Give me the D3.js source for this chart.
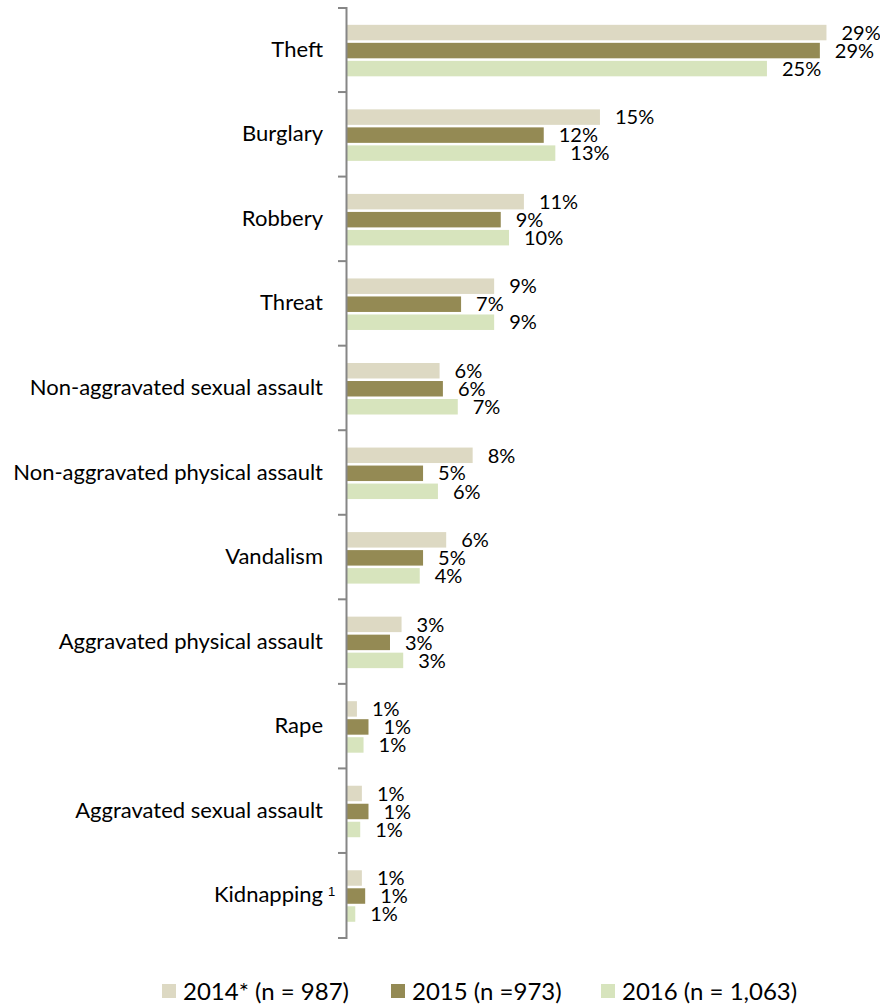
<!DOCTYPE html>
<html>
<head>
<meta charset="utf-8">
<script src="https://cdn.jsdelivr.net/npm/d3@7/dist/d3.min.js"></script>
<style>
  html, body { margin: 0; padding: 0; background: #fff; }
  svg { display: block; font-family: Lato, "Noto Sans", sans-serif; }
</style>
</head>
<body>
<svg id="chart" width="880" height="1006"></svg>
<script>
// Incident types, top to bottom
const categories = [
  "Theft", "Burglary", "Robbery", "Threat",
  "Non-aggravated sexual assault", "Non-aggravated physical assault",
  "Vandalism", "Aggravated physical assault", "Rape",
  "Aggravated sexual assault", "Kidnapping"
];

// Survey years and legend text
const seriesKeys = ["2014", "2015", "2016"];
const seriesLabels = ["2014* (n = 987)", "2015 (n =973)", "2016 (n = 1,063)"];

// Share of victims (%) per incident type
const values2014 = [29.0, 15.3, 10.7, 8.9, 5.6, 7.6, 6.0, 3.3, 0.6, 0.9, 0.9];
const values2015 = [28.6, 11.9, 9.3, 6.9, 5.8, 4.6, 4.6, 2.6, 1.3, 1.3, 1.1];
const values2016 = [25.4, 12.6, 9.8, 8.9, 6.7, 5.5, 4.4, 3.4, 1.0, 0.8, 0.5];

const seriesValues = [values2014, values2015, values2016];
const colors = ["#DDD9C3", "#948A54", "#D7E4BD"];

const svg = d3.select("#chart");

const axisX = 346;
const plotLeft = 347;
const plotTop = 7.5, plotBottom = 937.5;

const x = d3.scaleLinear().domain([0, 30]).range([0, 496]);

const y0 = d3.scaleBand().domain(categories).range([plotTop, plotBottom]).padding(0);
const groupH = 51.5;
const groupOffset = (y0.bandwidth() - groupH) / 2 + 0.8;
const y1 = d3.scaleBand().domain(seriesKeys).range([0, groupH]).paddingInner(0.14).paddingOuter(0);

const rows = categories.map((c, i) => ({
  category: c,
  bars: seriesKeys.map((k, j) => ({ key: k, value: seriesValues[j][i], color: colors[j] }))
}));

// Bars
const plot = svg.append("g").attr("transform", `translate(${plotLeft},0)`);
const groups = plot.selectAll("g.group")
  .data(rows)
  .join("g")
  .attr("class", "group")
  .attr("transform", d => `translate(0,${y0(d.category) + groupOffset})`);

groups.selectAll("rect")
  .data(d => d.bars)
  .join("rect")
  .attr("x", 0)
  .attr("y", d => y1(d.key))
  .attr("width", d => x(d.value))
  .attr("height", y1.bandwidth())
  .attr("fill", d => d.color);

// Value labels
groups.selectAll("text.value")
  .data(d => d.bars)
  .join("text")
  .attr("class", "value")
  .attr("x", d => x(d.value) + 15)
  .attr("y", d => y1(d.key) + y1.bandwidth() / 2)
  .attr("dy", "0.36em")
  .attr("font-size", 20)
  .attr("fill", "#000")
  .text(d => Math.round(d.value) + "%");

// Category axis
const axisG = svg.append("g")
  .attr("transform", `translate(${axisX},0)`)
  .call(d3.axisLeft(y0).tickSize(0).tickSizeOuter(8).tickPadding(23));

axisG.select(".domain").attr("stroke", "#868686").attr("stroke-width", 2);
axisG.selectAll(".tick text")
  .attr("font-size", 22)
  .attr("fill", "#000")
  .attr("font-family", "Lato, 'Noto Sans', sans-serif");

// Tick marks between categories
axisG.selectAll("line.sep")
  .data(categories.slice(1))
  .join("line")
  .attr("class", "sep")
  .attr("x1", -8).attr("x2", 0)
  .attr("y1", d => y0(d)).attr("y2", d => y0(d))
  .attr("stroke", "#868686")
  .attr("stroke-width", 2);

// Footnote marker on Kidnapping
axisG.selectAll(".tick")
  .filter(d => d === "Kidnapping")
  .append("text")
  .attr("x", -18)
  .attr("y", 1)
  .attr("font-size", 13)
  .attr("fill", "#000")
  .attr("text-anchor", "start")
  .text("1");

// Legend
const legendX = [162, 391, 601];
const legend = svg.append("g").attr("transform", "translate(0,991)");
const items = legend.selectAll("g")
  .data(seriesLabels)
  .join("g")
  .attr("transform", (d, i) => `translate(${legendX[i]},0)`);
items.append("rect")
  .attr("x", 0).attr("y", -7)
  .attr("width", 14).attr("height", 14)
  .attr("fill", (d, i) => colors[i]);
items.append("text")
  .attr("x", 21)
  .attr("dy", "0.36em")
  .attr("font-size", 24)
  .attr("fill", "#000")
  .text(d => d);
</script>
</body>
</html>
